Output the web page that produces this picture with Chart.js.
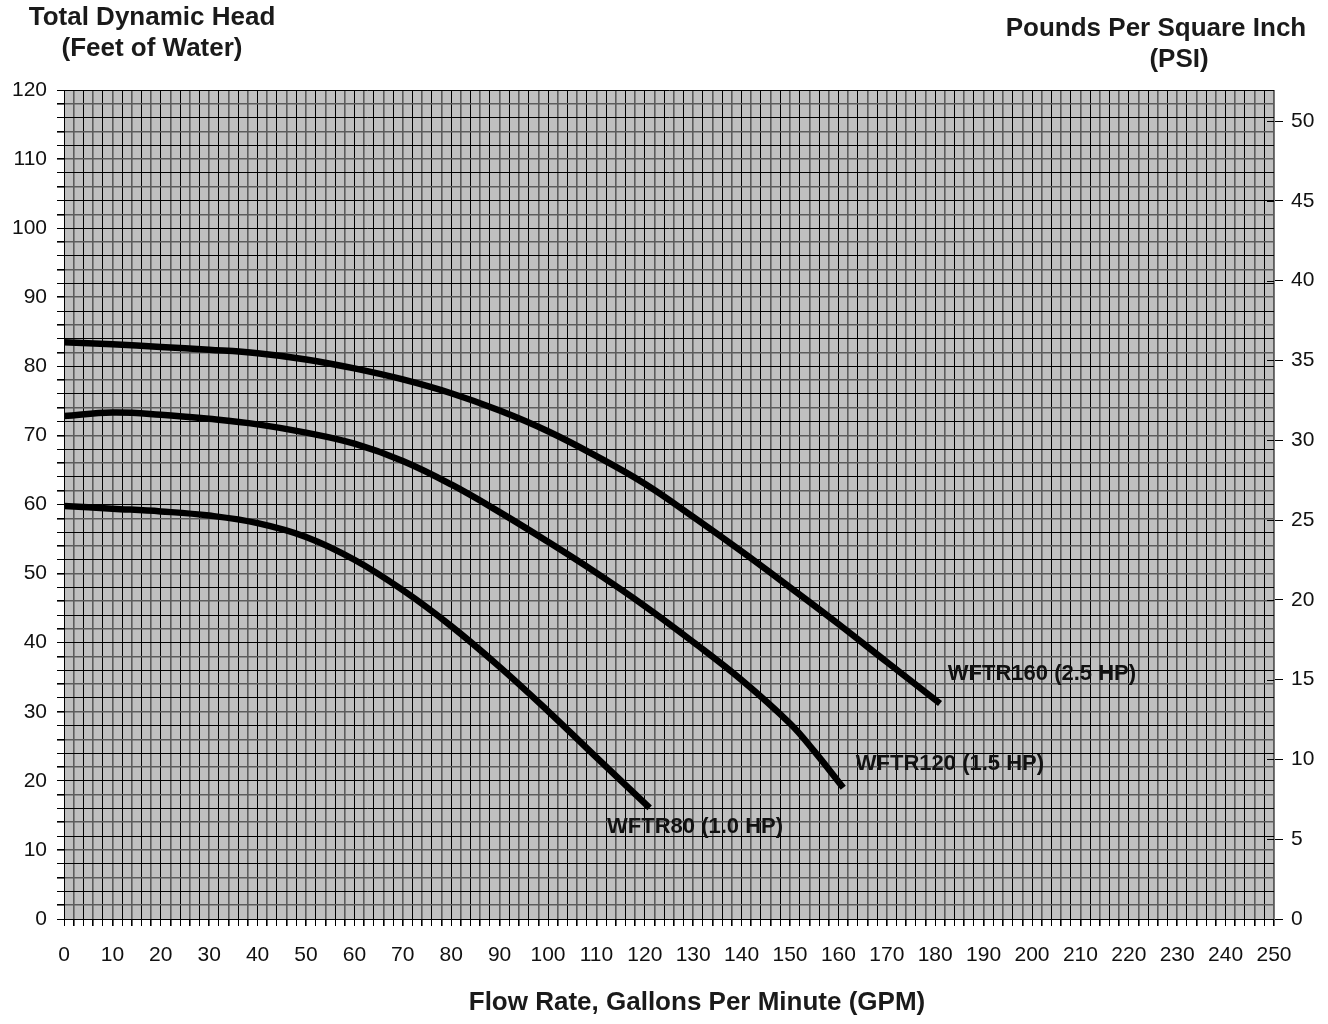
<!DOCTYPE html>
<html>
<head>
<meta charset="utf-8">
<script src="https://cdn.jsdelivr.net/npm/chart.js@4.4.1/dist/chart.umd.min.js"></script>
<style>
html,body{margin:0;padding:0;background:#fff;}
#wrap{width:1328px;height:1024px;position:relative;}
</style>
</head>
<body>
<div id="wrap"><canvas id="c" width="1328" height="1024"></canvas></div>
<script>
// ---- data ----
const seriesNames = ["WFTR80 (1.0 HP)", "WFTR120 (1.5 HP)", "WFTR160 (2.5 HP)"];
const gpm80  = [0, 10, 20, 30, 40, 50, 60, 70, 80, 90, 100, 110, 121];
const head80 = [59.8, 59.4, 59.0, 58.4, 57.3, 55.3, 52.0, 47.6, 42.4, 36.5, 30.1, 23.4, 16.1];
const gpm120  = [0, 10, 20, 30, 40, 50, 60, 70, 80, 90, 100, 110, 120, 130, 140, 150, 155, 161];
const head120 = [72.8, 73.3, 73.0, 72.4, 71.6, 70.4, 68.8, 66.3, 62.9, 58.9, 54.6, 50.1, 45.3, 40.1, 34.6, 28.3, 24.3, 19.0];
const gpm160  = [0, 10, 20, 30, 40, 50, 60, 70, 80, 90, 100, 110, 120, 130, 140, 150, 160, 170, 181];
const head160 = [83.5, 83.2, 82.8, 82.4, 81.9, 81.0, 79.7, 78.1, 76.1, 73.6, 70.6, 67.0, 63.0, 58.2, 53.2, 48.0, 42.7, 37.2, 31.2];
// label anchors (GPM, feet) of the series names
const labelGpm  = [112.2, 163.6, 182.6];
const labelHead = [13.3, 22.4, 35.5];
const xRange = [0, 250];       // x axis range, GPM
const yRange = [0, 120];       // left axis range, feet
const psiStep = 5;
const feetPerPsi = 2.31;

function pts(xs, ys){ return xs.map((x,i)=>({x:x, y:ys[i]})); }

const gridColor = ctx => (ctx.index % 2 === 0 ? '#000000' : '#5c5c5c');
const gridWidth = ctx => (ctx.index % 2 === 0 ? 1 : 1.6);
const FONT = '"Liberation Sans", Arial, sans-serif';

const plotBg = {
  id:'plotBg',
  beforeDraw(chart){
    const {ctx, chartArea:a} = chart;
    ctx.save();
    ctx.fillStyle = '#c0c0c0';
    ctx.fillRect(a.left, a.top, a.right-a.left, a.bottom-a.top);
    ctx.restore();
  }
};

const textPlugin = {
  id:'texts',
  afterDatasetsDraw(chart){
    const {ctx, scales, chartArea:a} = chart;
    ctx.save();
    // inner part of the PSI ticks
    ctx.strokeStyle = '#000';
    ctx.lineWidth = 1;
    scales.y2.ticks.forEach(t => {
      const py = Math.round(scales.y2.getPixelForValue(t.value)) + 0.5;
      ctx.beginPath(); ctx.moveTo(a.right - 7, py); ctx.lineTo(a.right, py); ctx.stroke();
    });
    ctx.fillStyle = '#111';
    ctx.font = 'bold 22px ' + FONT;
    ctx.textAlign = 'left';
    ctx.textBaseline = 'middle';
    for (let i=0;i<seriesNames.length;i++){
      ctx.fillText(seriesNames[i], scales.x.getPixelForValue(labelGpm[i]), scales.y.getPixelForValue(labelHead[i]));
    }
    ctx.restore();
  },
  afterDraw(chart){
    const {ctx} = chart;
    ctx.save();
    ctx.fillStyle = '#1a1a1a';
    ctx.font = 'bold 26px ' + FONT;
    ctx.textAlign = 'center';
    ctx.textBaseline = 'middle';
    ctx.fillText('Total Dynamic Head', 152, 18);
    ctx.fillText('(Feet of Water)', 152, 49);
    ctx.fillText('Pounds Per Square Inch', 1156, 29);
    ctx.fillText('(PSI)', 1179, 60);
    ctx.fillText('Flow Rate, Gallons Per Minute (GPM)', 697, 1003);
    ctx.restore();
  }
};

const lineStyle = {borderColor:'#000', backgroundColor:'#000', borderWidth:6.5, pointRadius:0, fill:false, tension:0.4, borderCapStyle:'butt', borderJoinStyle:'round'};

new Chart(document.getElementById('c'), {
  type:'line',
  data:{
    datasets:[
      Object.assign({label:seriesNames[0], data:pts(gpm80, head80)}, lineStyle),
      Object.assign({label:seriesNames[1], data:pts(gpm120, head120)}, lineStyle),
      Object.assign({label:seriesNames[2], data:pts(gpm160, head160)}, lineStyle)
    ]
  },
  options:{
    responsive:false,
    animation:false,
    devicePixelRatio:1,
    layout:{padding:{top:90, left:0, right:0, bottom:0}},
    plugins:{legend:{display:false}, tooltip:{enabled:false}},
    scales:{
      x:{
        type:'linear', position:'bottom', min:xRange[0], max:xRange[1],
        afterFit(s){ s.height = 105; },
        ticks:{stepSize:2, autoSkip:false, maxRotation:0, padding:17, color:'#111',
          font:{family:FONT, size:21},
          callback:v => (v % 10 === 0 ? String(v) : '')},
        grid:{color:gridColor, lineWidth:gridWidth, tickLength:7, tickColor:'#000', drawTicks:true},
        border:{display:true, color:'#000', width:1}
      },
      y:{
        type:'linear', position:'left', min:yRange[0], max:yRange[1],
        afterFit(s){ s.width = 64; },
        ticks:{stepSize:2, autoSkip:false, padding:10, color:'#111',
          font:{family:FONT, size:21},
          callback:v => (v % 10 === 0 ? String(v) : '')},
        grid:{color:gridColor, lineWidth:gridWidth, tickLength:7, tickColor:'#000'},
        border:{display:true, color:'#000', width:1}
      },
      y2:{
        type:'linear', position:'right', min:0, max:yRange[1]/feetPerPsi,
        afterFit(s){ s.width = 54; },
        ticks:{stepSize:psiStep, autoSkip:false, includeBounds:false, padding:8, color:'#111',
          font:{family:FONT, size:21}},
        grid:{drawOnChartArea:false, tickLength:9, tickColor:'#000', lineWidth:1},
        border:{display:true, color:'#777', width:1}
      }
    }
  },
  plugins:[plotBg, textPlugin]
});
</script>
</body>
</html>
